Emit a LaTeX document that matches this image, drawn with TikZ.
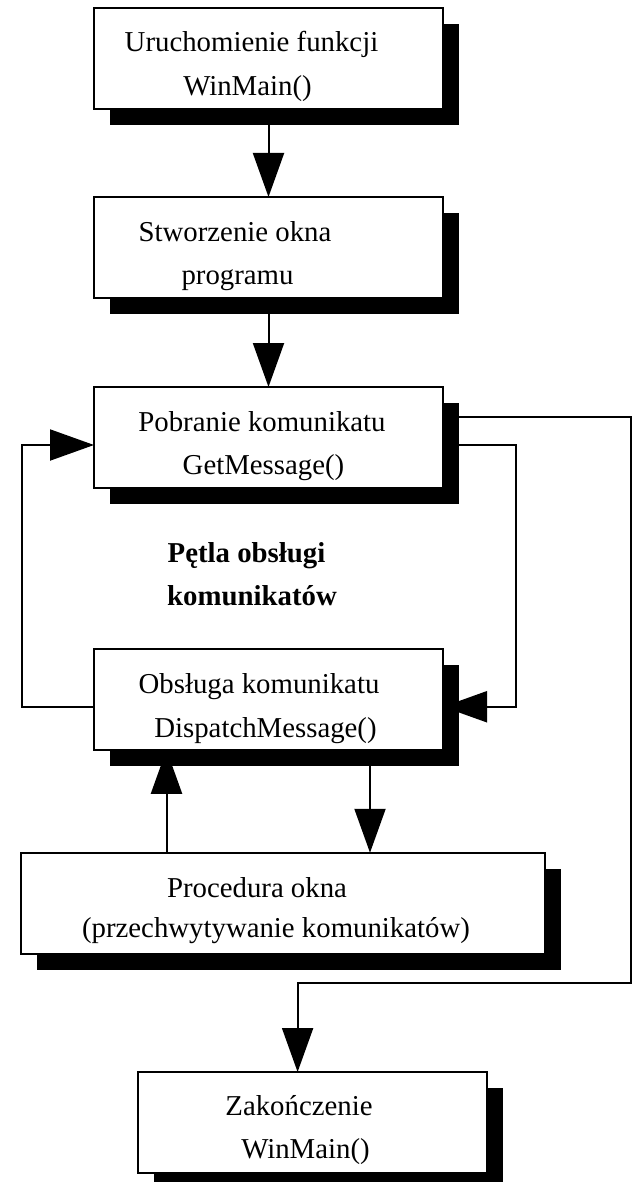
\documentclass[tikz,border=0pt]{standalone}
\usepackage{fontspec}
\setmainfont{Liberation Serif}
\usetikzlibrary{arrows.meta,shadows}
\begin{document}
\begin{tikzpicture}[x=1pt,y=-1pt,
  box/.style={draw, line width=2pt, fill=white, rectangle, inner sep=0pt, outer sep=0pt,
    minimum width=349pt, minimum height=101pt,
    drop shadow={shadow xshift=16pt, shadow yshift=-16pt, opacity=1, fill=black}},
  txt/.style={anchor=base, inner sep=0pt, font=\fontsize{28.8}{34}\selectfont},
  btxt/.style={txt, font=\fontsize{28.8}{34}\selectfont\bfseries},
  arr/.style={line width=2pt, line join=miter, -{Triangle[length=44pt,width=31pt]}}]
\useasboundingbox (0,0) rectangle (632,1182);

% boxes
\node[box] (B1) at (268.5,58.75) {};
\node[box] (B2) at (268.5,247.5) {};
\node[box] (B3) at (268.5,437.5) {};
\node[box] (B4) at (268.5,699.25) {};
\node[box, minimum width=524pt] (B5) at (283,903.25) {};
\node[box] (B6) at (312,1122.5) {};

% texts
\node[txt] (t1a) at (251.5,52) {Uruchomienie funkcji};
\node[txt] (t1b) at (247.5,96) {WinMain()};
\node[txt] (t2a) at (235,241) {Stworzenie okna};
\node[txt] (t2b) at (237.5,284.5) {programu};
\node[txt] (t3a) at (262,431) {Pobranie komunikatu};
\node[txt] (t3b) at (263.5,474) {GetMessage()};
\node[btxt] (l1) at (246.5,562) {Pętla obsługi};
\node[btxt] (l2) at (252,605) {komunikatów};
\node[txt] (t4a) at (259,693.5) {Obsługa komunikatu};
\node[txt] (t4b) at (265.5,737) {DispatchMessage()};
\node[txt] (t5a) at (257,897) {Procedura okna};
\node[txt] (t5b) at (276,937.5) {(przechwytywanie komunikatów)};
\node[txt] (t6a) at (299,1115) {Zakończenie};
\node[txt] (t6b) at (305.5,1158.5) {WinMain()};

% connectors
\draw[arr] (B1.south) -- (B2.north);
\draw[arr] (B2.south) -- (B3.north);
\coordinate (LL) at (21.5,706.75);
\coordinate (RL) at (516,445);
\coordinate (OR) at (631,416.7);
\coordinate (OB) at (631,983.3);
\draw[arr] ([yshift=-7.5pt]B4.west) -- (LL) |- ([yshift=-7.5pt]B3.west);
\draw[arr] ([yshift=-7.5pt]B3.east) -- (RL) |- ([yshift=-7.5pt]B4.east);
\draw[arr] ([yshift=20.8pt]B3.east) -- (OR) -- (OB) -| ([xshift=-14.4pt]B6.north);
\draw[arr] ([xshift=-116.5pt]B5.north) -- ([xshift=-102pt]B4.south);
\draw[arr] ([xshift=101.5pt]B4.south) -- ([xshift=87pt]B5.north);
\end{tikzpicture}
\end{document}
